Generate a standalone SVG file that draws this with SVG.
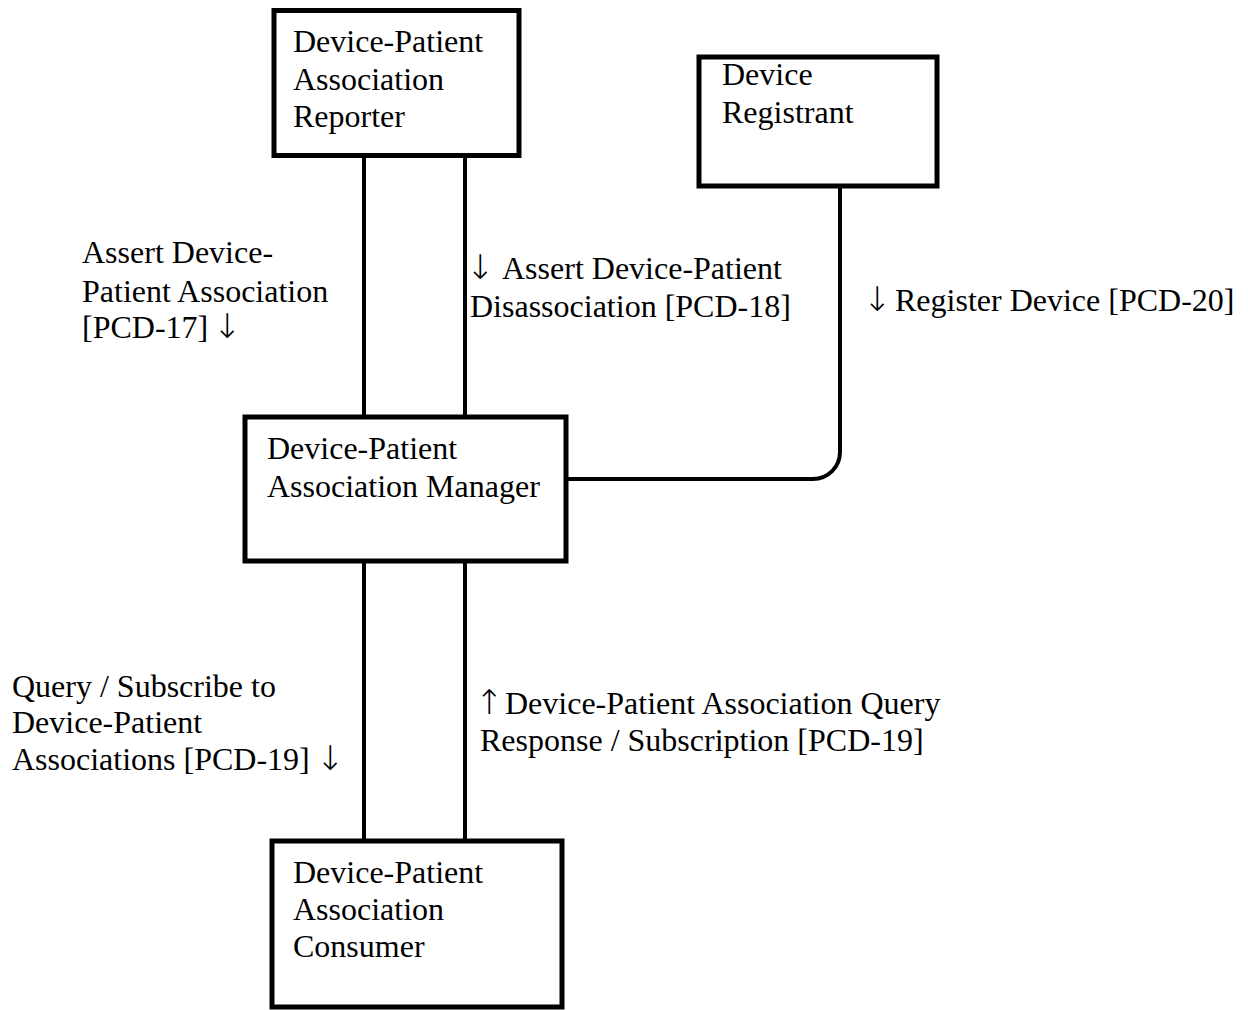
<svg xmlns="http://www.w3.org/2000/svg" width="1248" height="1010" viewBox="0 0 1248 1010">
<style>
.box{fill:#fff;stroke:#000;stroke-width:5}
.conn{fill:none;stroke:#000;stroke-width:4}
text{font-family:"Liberation Serif","Times New Roman",serif;font-size:32px;fill:#000}
.ar{font-family:"DejaVu Sans",sans-serif;font-size:34px;font-weight:200}
</style>
<rect width="1248" height="1010" fill="#fff"/>
<g id="connectors">
<line class="conn" x1="364" y1="156" x2="364" y2="417"/>
<line class="conn" x1="465" y1="156" x2="465" y2="417"/>
<line class="conn" x1="364" y1="561" x2="364" y2="841"/>
<line class="conn" x1="465" y1="561" x2="465" y2="841"/>
<path class="conn" d="M566 479 H813 A27 27 0 0 0 840 452 V186"/>
</g>
<g id="reporter">
<rect class="box" x="274" y="10.5" width="245" height="145"/>
<text x="293" y="52">Device-Patient</text>
<text x="293" y="90">Association</text>
<text x="293" y="127">Reporter</text>
</g>
<g id="registrant">
<rect class="box" x="699" y="57" width="238" height="129"/>
<text x="722" y="85">Device</text>
<text x="722" y="123">Registrant</text>
</g>
<g id="manager">
<rect class="box" x="245" y="417" width="321" height="144"/>
<text x="267" y="459">Device-Patient</text>
<text x="267" y="497">Association Manager</text>
</g>
<g id="consumer">
<rect class="box" x="272" y="841" width="290" height="166"/>
<text x="293" y="883">Device-Patient</text>
<text x="293" y="920">Association</text>
<text x="293" y="957">Consumer</text>
</g>
<g id="labels">
<text x="82" y="263">Assert Device-</text>
<text x="82" y="302">Patient Association</text>
<text x="82" y="338">[PCD-17]<tspan class="ar" x="213">↓</tspan></text>
<text x="466" y="279"><tspan class="ar">↓</tspan><tspan x="502">Assert Device-Patient</tspan></text>
<text x="470" y="317">Disassociation [PCD-18]</text>
<text x="863" y="311"><tspan class="ar">↓</tspan><tspan x="895">Register Device [PCD-20]</tspan></text>
<text x="12" y="697">Query / Subscribe to</text>
<text x="12" y="733">Device-Patient</text>
<text x="12" y="770">Associations [PCD-19]<tspan class="ar" x="316">↓</tspan></text>
<text x="475" y="714"><tspan class="ar">↑</tspan><tspan x="505">Device-Patient Association Query</tspan></text>
<text x="480" y="751">Response / Subscription [PCD-19]</text>
</g>
</svg>
